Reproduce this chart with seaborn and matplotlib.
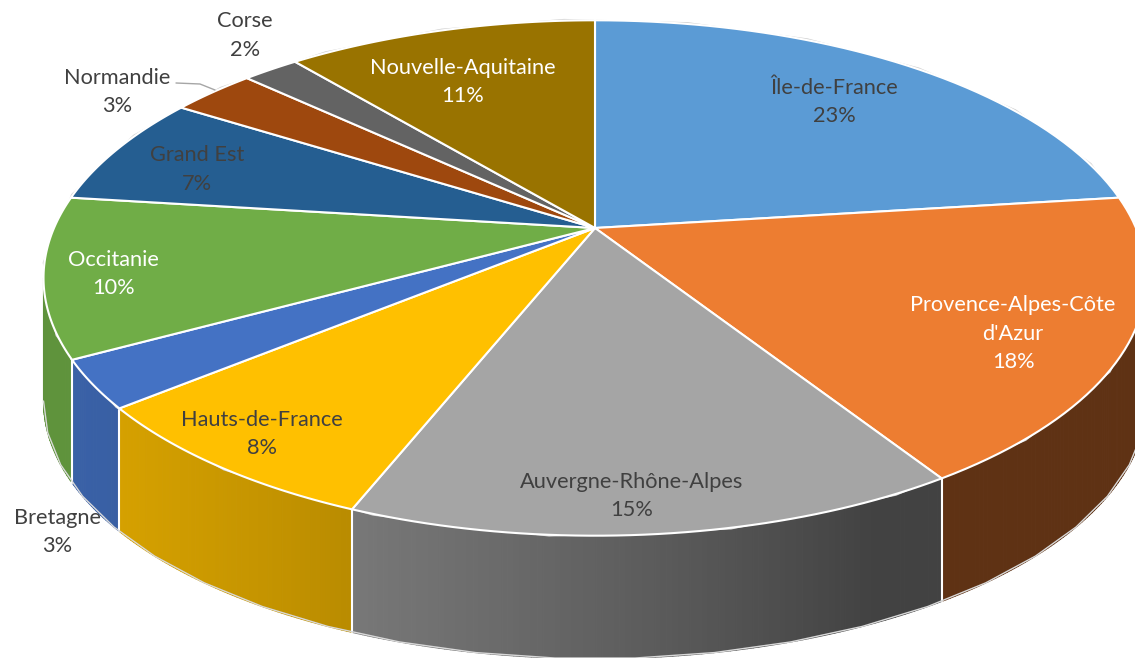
import numpy as np
import matplotlib
matplotlib.use("Agg")
import matplotlib.pyplot as plt
import seaborn as sns
from matplotlib.transforms import Transform
from matplotlib.path import Path
from matplotlib.collections import PolyCollection
from matplotlib.lines import Line2D
from matplotlib.colors import to_rgb

# ---------------- data ----------------
regions = ["Île-de-France", "Provence-Alpes-Côte d'Azur", "Auvergne-Rhône-Alpes",
           "Hauts-de-France", "Bretagne", "Occitanie", "Grand Est", "Normandie",
           "Corse", "Nouvelle-Aquitaine"]
shares = [23, 18, 15, 8, 3, 10, 7, 3, 2, 11]

# ---------------- styles ----------------
slice_colors = ["#5B9BD5", "#ED7D31", "#A5A5A5", "#FFC000", "#4472C4",
                "#70AD47", "#255E91", "#9E480E", "#636363", "#997300"]
DARK = "#404040"
label_colors = [DARK, "white", DARK, DARK, DARK, "white", DARK, DARK, DARK, "white"]
# label anchor (pixel centre of first line, y measured from the top)
label_pos = [(834, 88), (1013, 305), (632, 482), (262, 420), (57, 518),
             (113, 260), (197, 155), (117, 78), (245, 21), (463, 68)]
wrap_labels = {"Provence-Alpes-Côte d'Azur"}
LINE_STEP = 28.5

W, H = 1135, 658
CX, CY = 595, H - 228          # pie centre in data coords (y up)
RX, RY = 541, 248              # radii of the tilted disc
PERSP = 0.194                  # perspective strength
DEPTH = 123                    # thickness of the pie (pixels)

sns.set_theme(style="white")
plt.rcParams['font.family'] = ['Lato', 'DejaVu Sans']
palette = sns.color_palette(slice_colors)


class Tilted(Transform):
    """Projects the flat unit pie onto a tilted disc seen in perspective.
    polar=True takes (angle in degrees, depth fraction) instead of (x, y)."""
    input_dims = 2
    output_dims = 2
    is_separable = False
    has_inverse = False

    def __init__(self, polar=False):
        super().__init__()
        self.polar = polar

    def transform_non_affine(self, values):
        v = np.asarray(values, float)
        one = v.ndim == 1
        v = v.reshape(-1, 2)
        if self.polar:
            th = np.deg2rad(v[:, 0])
            x, y, drop = np.cos(th), np.sin(th), v[:, 1] * DEPTH
        else:
            x, y, drop = v[:, 0], v[:, 1], 0.0
        s = 1.0 / (1.0 + PERSP * y)
        out = np.column_stack([CX + RX * x * s, CY + RY * y * s - drop])
        return out[0] if one else out

    def transform_path_non_affine(self, path):
        pts = []
        for seg, code in path.iter_bezier():
            if code == Path.MOVETO:
                pts.append(np.atleast_2d(seg.control_points))
            else:
                pts.append(seg(np.linspace(0, 1, 24)[1:]))
        closed = path.codes is not None and path.codes[-1] == Path.CLOSEPOLY
        return Path(self.transform_non_affine(np.concatenate(pts)), closed=closed)


fig = plt.figure(figsize=(W / 100, H / 100), dpi=100)
ax = fig.add_axes([0, 0, 1, 1])

wedges, _ = ax.pie(shares, colors=palette, startangle=90, counterclock=False,
                   radius=1.0, center=(0, 0),
                   wedgeprops=dict(edgecolor="white", linewidth=1.5))
ax.set_aspect("auto")
ax.set_xlim(0, W)
ax.set_ylim(0, H)
ax.axis("off")

top_tr = Tilted() + ax.transData
wall_tr = Tilted(polar=True) + ax.transData
for w in wedges:
    w.set_transform(top_tr)
    w.set_zorder(3)

# visible part of the side wall
th_lo = -180 + np.degrees(np.arcsin(PERSP))
th_hi = -np.degrees(np.arcsin(PERSP))


def shade(theta):
    t = np.deg2rad(theta % 360 - 205)
    return 0.40 + 0.45 * max(0.0, np.cos(t))


quads, qcols = [], []
bounds = []
for w, col in zip(wedges, palette):
    a, b = max(w.theta1, th_lo), min(w.theta2, th_hi)
    if a >= b:
        continue
    bounds += [w.theta1, w.theta2]
    edges = np.linspace(a, b, max(2, int((b - a) / 0.5) + 1))
    rgb = np.array(to_rgb(col))
    for t0, t1 in zip(edges[:-1], edges[1:]):
        quads.append([(t0, 0), (t1, 0), (t1, 1), (t0, 1)])
        qcols.append(np.clip(rgb * shade((t0 + t1) / 2), 0, 1))

walls = PolyCollection(quads, facecolors=qcols, edgecolors=qcols, linewidths=0.8,
                       transform=wall_tr, zorder=1)
ax.add_collection(walls, autolim=False)

# white separators on the wall
for t in sorted(set(bounds)):
    if th_lo < t < th_hi:
        ax.add_line(Line2D([t, t], [0, 1], color="white", lw=1.5,
                           transform=wall_tr, zorder=2))

# faint outlines
ring = np.linspace(-360, 0, 721)
ax.add_line(Line2D(ring, np.zeros_like(ring), color="#cfcfcf", lw=2.6,
                   transform=wall_tr, zorder=2.5))
front = np.linspace(th_lo, th_hi, 400)
ax.add_line(Line2D(front, np.ones_like(front), color="#d9d9d9", lw=1.0,
                   transform=wall_tr, zorder=2))

# ---------------- labels ----------------
renderer = fig.canvas.get_renderer()
probe = ax.text(0, 0, "Provence-Alpes-Côte", fontsize=20)
fs = 20 * 206 / probe.get_window_extent(renderer).width
probe.remove()

for name, v, (px, py), c in zip(regions, shares, label_pos, label_colors):
    lines = name.rsplit(" ", 1) if name in wrap_labels else [name]
    lines = lines + [f"{v}%"]
    for i, txt in enumerate(lines):
        ax.text(px, H - (py + i * LINE_STEP), txt, ha="center", va="center",
                fontsize=fs, color=c, zorder=5)

# leader line for Normandie
ax.add_line(Line2D([176, 200, 215], [H - 83, H - 84, H - 90], color="#a6a6a6",
                   lw=1.0, zorder=4))

fig.savefig("out.png", dpi=100)
